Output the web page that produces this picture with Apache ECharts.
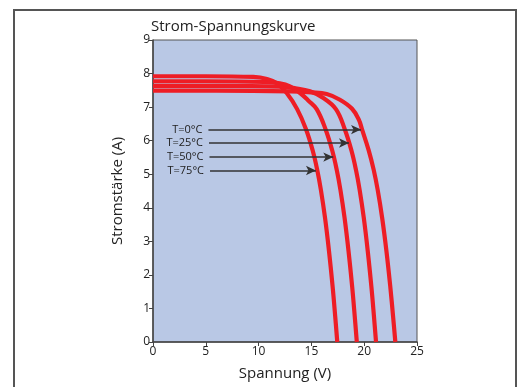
<!DOCTYPE html>
<html>
<head>
<meta charset="utf-8">
<script src="https://cdn.jsdelivr.net/npm/echarts@6/dist/echarts.min.js"></script>
<style>
  html, body { margin: 0; padding: 0; background: #fff; }
  #chart { width: 522px; height: 387px; }
</style>
</head>
<body>
<div id="chart"></div>
<script>
const volt75 = [0, 5, 9.5, 10.8, 11.7, 12.66, 13.65, 14.48, 15.11, 15.55, 15.9, 16.29, 16.67, 17.01, 17.25, 17.45];
const amp75 = [7.92, 7.92, 7.9, 7.84, 7.72, 7.42, 6.94, 6.35, 5.72, 5.13, 4.53, 3.7, 2.7, 1.65, 0.78, 0];
const volt50 = [0, 5, 10.5, 12.0, 12.97, 13.92, 14.7, 15.5, 16.33, 16.96, 17.4, 17.75, 18.14, 18.52, 18.86, 19.1, 19.3];
const amp50 = [7.77, 7.77, 7.75, 7.71, 7.62, 7.42, 7.2, 6.94, 6.35, 5.72, 5.13, 4.53, 3.7, 2.7, 1.65, 0.78, 0];
const volt25 = [0, 6, 12.0, 13.5, 14.87, 16.13, 17.32, 18.15, 18.78, 19.22, 19.57, 19.96, 20.34, 20.68, 20.92, 21.12];
const amp25 = [7.63, 7.63, 7.61, 7.56, 7.47, 7.27, 6.94, 6.35, 5.72, 5.13, 4.53, 3.7, 2.7, 1.65, 0.78, 0];
const volt0 = [0, 6, 13.0, 15.0, 16.45, 17.7, 18.85, 19.5, 19.78, 20.42, 20.9, 21.28, 21.7, 22.11, 22.47, 22.73, 22.95];
const amp0 = [7.49, 7.49, 7.47, 7.44, 7.39, 7.22, 6.95, 6.62, 6.35, 5.72, 5.13, 4.53, 3.7, 2.7, 1.65, 0.78, 0];

// Beschriftungspfeile
const arrowLabels = ['T=0°C', 'T=25°C', 'T=50°C', 'T=75°C'];
const arrowStartV = [5.25, 5.3, 5.35, 5.4];
const arrowEndV = [19.7, 18.56, 17.07, 15.43];
const arrowAmp = [6.33, 5.93, 5.51, 5.11];

const xTicks = [0, 5, 10, 15, 20, 25];
const yTicks = [0, 1, 2, 3, 4, 5, 6, 7, 8, 9];

const font = '"Open Sans", "Noto Sans", sans-serif';
const red = '#ee1d25';

const zip = (xs, ys) => xs.map((x, i) => [x, ys[i]]);

const curve = (name, data) => ({
  name,
  type: 'line',
  data,
  smooth: 0.4,
  showSymbol: false,
  lineStyle: { color: red, width: 4.2 },
  silent: true,
  z: 2,
});

const chart = echarts.init(document.getElementById('chart'));
const option = {
  animation: false,
  backgroundColor: '#fff',
  title: {
    text: 'Strom-Spannungskurve',
    left: 151,
    top: 19,
    padding: 0,
    textStyle: { fontFamily: font, fontSize: 15, fontWeight: 'normal', color: '#222' },
  },
  graphic: [
    {
      type: 'rect',
      shape: { x: 14, y: 10, width: 502, height: 400 },
      style: { fill: 'none', stroke: '#555', lineWidth: 2 },
      silent: true,
    },
  ],
  grid: {
    left: 153,
    top: 40,
    right: 105,
    bottom: 45,
    show: true,
    backgroundColor: '#b9c8e5',
    borderColor: '#555',
    borderWidth: 1,
  },
  xAxis: {
    type: 'value',
    min: 0,
    max: 25,
    interval: 5,
    name: 'Spannung (V)',
    nameLocation: 'middle',
    nameGap: 24,
    nameTextStyle: { fontFamily: font, fontSize: 15, color: '#222' },
    axisLine: { show: true, onZero: false, lineStyle: { color: '#444', width: 1.5 } },
    axisTick: { show: true, inside: false, length: 4, lineStyle: { color: '#444' } },
    axisLabel: { fontFamily: font, fontSize: 12, color: '#222', margin: 4,
      formatter: (v) => (xTicks.includes(v) ? String(v) : '') },
    splitLine: { show: false },
  },
  yAxis: {
    type: 'value',
    min: 0,
    max: 9,
    interval: 1,
    name: 'Stromstärke (A)',
    nameLocation: 'middle',
    nameGap: 28,
    nameTextStyle: { fontFamily: font, fontSize: 15, color: '#222' },
    axisLine: { show: true, onZero: false, lineStyle: { color: '#444', width: 1.5 } },
    axisTick: { show: true, inside: false, length: 4, lineStyle: { color: '#444' } },
    axisLabel: { fontFamily: font, fontSize: 12, color: '#222', margin: 3,
      formatter: (v) => (yTicks.includes(v) ? String(v) : '') },
    splitLine: { show: false },
  },
  series: [
    curve('T=0°C', zip(volt0, amp0)),
    curve('T=25°C', zip(volt25, amp25)),
    curve('T=50°C', zip(volt50, amp50)),
    curve('T=75°C', zip(volt75, amp75)),
    {
      name: 'pfeile',
      type: 'line',
      data: [],
      silent: true,
      z: 3,
      markLine: {
        silent: true,
        symbol: ['none', 'arrow'],
        symbolSize: [7, 10],
        lineStyle: { color: '#333', width: 1.5, type: 'solid' },
        itemStyle: { color: '#222', borderColor: '#fff', borderWidth: 1 },
        label: {
          show: true,
          position: 'start',
          distance: 6,
          fontFamily: font,
          fontSize: 11,
          color: '#222',
        },
        emphasis: { disabled: true },
        data: arrowLabels.map((lab, i) => [
          { coord: [arrowStartV[i], arrowAmp[i]], label: { formatter: lab } },
          { coord: [arrowEndV[i], arrowAmp[i]] },
        ]),
      },
    },
  ],
};
chart.setOption(option);
</script>
</body>
</html>
